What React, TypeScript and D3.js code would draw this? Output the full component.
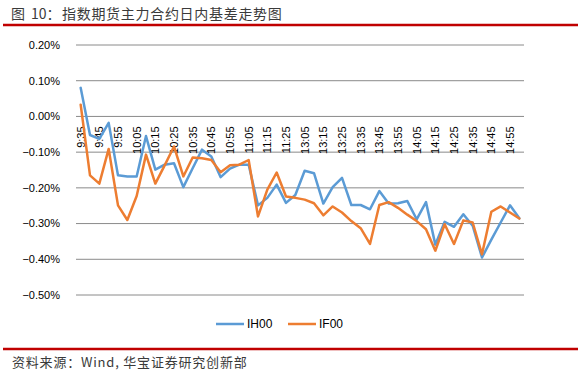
import React, { useEffect, useRef } from 'react';
import * as d3 from 'd3';

// 5-minute intraday slots
const times = [
  '9:35', '9:40', '9:45', '9:50', '9:55', '10:00', '10:05', '10:10', '10:15', '10:20', '10:25', '10:30',
  '10:35', '10:40', '10:45', '10:50', '10:55', '11:00', '11:05', '11:10', '11:15', '11:20', '11:25', '11:30',
  '13:05', '13:10', '13:15', '13:20', '13:25', '13:30', '13:35', '13:40', '13:45', '13:50', '13:55', '14:00',
  '14:05', '14:10', '14:15', '14:20', '14:25', '14:30', '14:35', '14:40', '14:45', '14:50', '14:55', '15:00',
];

// basis in percent
const ih00 = [
  0.080, -0.052, -0.063, -0.018, -0.165, -0.168, -0.168, -0.055, -0.149, -0.135, -0.131, -0.198,
  -0.145, -0.093, -0.112, -0.170, -0.146, -0.135, -0.135, -0.249, -0.228, -0.191, -0.242, -0.220,
  -0.152, -0.159, -0.244, -0.198, -0.172, -0.248, -0.248, -0.260, -0.209, -0.244, -0.243, -0.237,
  -0.288, -0.240, -0.359, -0.295, -0.309, -0.274, -0.306, -0.395, -0.345, -0.297, -0.249, -0.285,
];

const if00 = [
  0.033, -0.165, -0.188, -0.091, -0.249, -0.290, -0.223, -0.107, -0.188, -0.137, -0.084, -0.168,
  -0.115, -0.117, -0.122, -0.156, -0.137, -0.135, -0.122, -0.280, -0.205, -0.157, -0.224, -0.228,
  -0.233, -0.243, -0.277, -0.252, -0.269, -0.293, -0.313, -0.357, -0.248, -0.240, -0.256, -0.275,
  -0.293, -0.316, -0.376, -0.302, -0.357, -0.291, -0.297, -0.386, -0.267, -0.252, -0.269, -0.286,
];

const yTicks = [0.2, 0.1, 0, -0.1, -0.2, -0.3, -0.4, -0.5];

const series = [
  { name: 'IH00', values: ih00, color: '#5B9BD5' },
  { name: 'IF00', values: if00, color: '#ED7D31' },
];

const W = 586;
const H = 375;
const FONT = '"Liberation Sans", Arial, sans-serif';
const CJK = '"Noto Sans CJK SC", "Noto Sans", sans-serif';

const App: React.FC = () => {
  const svgRef = useRef<SVGSVGElement>(null);

  useEffect(() => {
    if (!svgRef.current) return;
    const svg = d3.select(svgRef.current);
    svg.selectAll('*').remove();

    const plot = { left: 76, right: 524, top: 45, bottom: 295 };

    const x = d3.scaleBand<string>().domain(times).range([plot.left, plot.right]);
    const y = d3.scaleLinear().domain([-0.5, 0.2]).range([plot.bottom, plot.top]);
    const cx = (t: string) => (x(t) as number) + x.bandwidth() / 2;

    // title + red rules
    svg.append('text')
      .attr('x', 11).attr('y', 19)
      .attr('font-family', CJK).attr('font-size', 14).attr('fill', '#3a3a3a')
      .text('图');
    svg.append('text')
      .attr('x', 31).attr('y', 19)
      .attr('font-family', CJK).attr('font-size', 14).attr('fill', '#3a3a3a')
      .text('10：');
    svg.append('text')
      .attr('x', 62).attr('y', 19)
      .attr('font-family', CJK).attr('font-size', 14).attr('fill', '#3a3a3a')
      .attr('letter-spacing', 0.7)
      .text('指数期货主力合约日内基差走势图');

    [25, 349].forEach(yy => {
      svg.append('line')
        .attr('x1', 3).attr('x2', 578).attr('y1', yy).attr('y2', yy)
        .attr('stroke', '#C00000').attr('stroke-width', 2.5);
    });

    // gridlines
    svg.append('g').selectAll('line')
      .data(yTicks)
      .enter()
      .append('line')
      .attr('x1', plot.left).attr('x2', plot.right)
      .attr('y1', d => y(d)).attr('y2', d => y(d))
      .attr('stroke', '#8a8a8a').attr('stroke-width', 1);

    // y labels
    svg.append('g').selectAll('text')
      .data(yTicks)
      .enter()
      .append('text')
      .attr('x', 60).attr('y', d => y(d))
      .attr('dy', '0.35em')
      .attr('text-anchor', 'end')
      .attr('font-family', FONT).attr('font-size', 11).attr('fill', '#000')
      .text(d => d3.format('.2f')(d) + '%');

    // x labels, every other slot, rotated and hung under the zero line
    const y0 = y(0) + 10;
    svg.append('g').selectAll('text')
      .data(times.filter((_, i) => i % 2 === 0))
      .enter()
      .append('text')
      .attr('transform', d => `translate(${cx(d)},${y0}) rotate(-90)`)
      .attr('dy', '0.35em')
      .attr('text-anchor', 'end')
      .attr('font-family', FONT).attr('font-size', 11).attr('fill', '#000')
      .text(d => d);

    // lines
    const line = d3.line<number>()
      .x((_, i) => cx(times[i]))
      .y(d => y(d));

    series.forEach(s => {
      svg.append('path')
        .datum(s.values)
        .attr('d', line)
        .attr('fill', 'none')
        .attr('stroke', s.color)
        .attr('stroke-width', 2.5)
        .attr('stroke-linejoin', 'round')
        .attr('stroke-linecap', 'round');
    });

    // legend
    const legend = svg.append('g').attr('transform', 'translate(216,324)');
    series.forEach((s, i) => {
      const g = legend.append('g').attr('transform', `translate(${i * 72},0)`);
      g.append('line')
        .attr('x1', 0).attr('x2', 28).attr('y1', 0).attr('y2', 0)
        .attr('stroke', s.color).attr('stroke-width', 2.5);
      g.append('text')
        .attr('x', 31).attr('y', 0).attr('dy', '0.35em')
        .attr('font-family', FONT).attr('font-size', 12).attr('fill', '#000')
        .text(s.name);
    });

    // source
    svg.append('text')
      .attr('x', 12).attr('y', 367)
      .attr('font-family', CJK).attr('font-size', 13).attr('fill', '#3a3a3a')
      .attr('letter-spacing', 0.8)
      .text('资料来源：Wind, 华宝证券研究创新部');
  }, []);

  return (
    <svg
      ref={svgRef}
      width={W}
      height={H}
      style={{ position: 'absolute', left: 0, top: 0, background: '#fff' }}
    />
  );
};

export default App;
